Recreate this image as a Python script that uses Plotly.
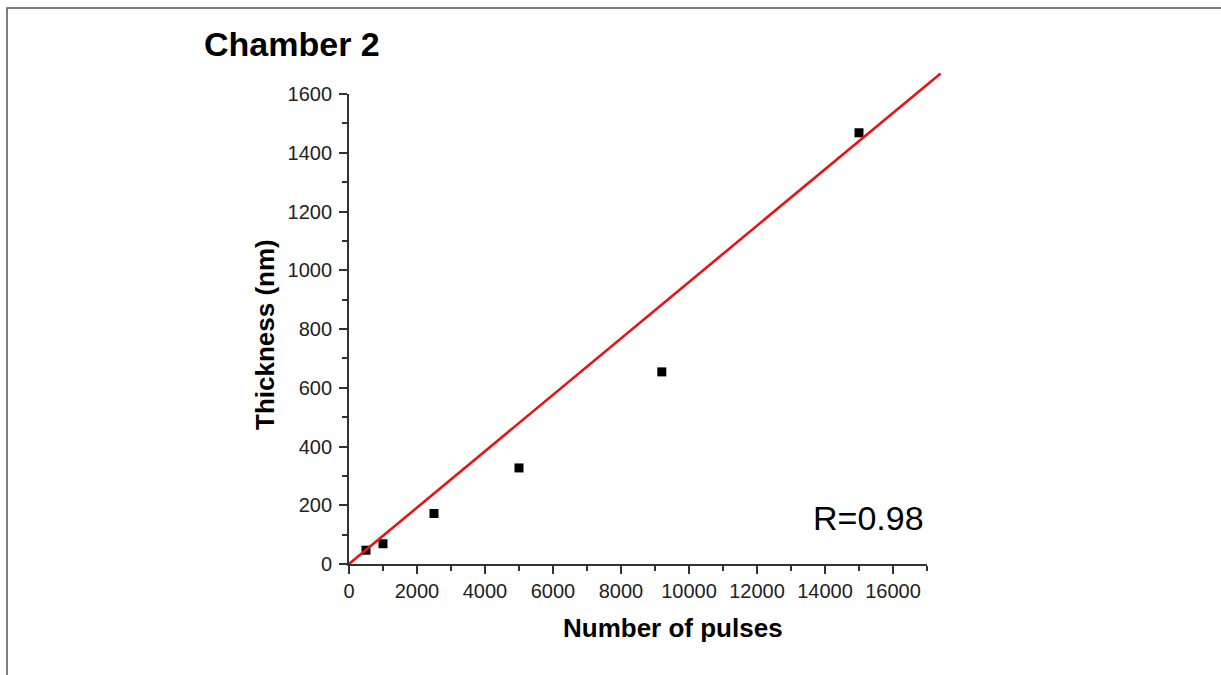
import plotly.graph_objects as go

# Data
pulses = [500, 1000, 2500, 5000, 9200, 15000]
thickness = [47, 69, 172, 327, 654, 1468]
fit_x = [0, 17400]
fit_y = [0, 1670]
x_ticks = [0, 2000, 4000, 6000, 8000, 10000, 12000, 14000, 16000]
y_ticks = [0, 200, 400, 600, 800, 1000, 1200, 1400, 1600]

X_MAX = 17000
Y_MAX = 1600

W, H = 1221, 675
ml, mr, mt, mb = 349, 261, 60, 111
pw = W - ml - mr
ph = H - mt - mb
xdom = 578 / pw
ydom = 470 / ph

FONT = "Arial, Liberation Sans, sans-serif"
AX = "#333333"

fig = go.Figure()

fig.add_trace(go.Scatter(
    x=pulses, y=thickness, mode="markers",
    marker=dict(symbol="square", size=9, color="black"),
    xaxis="x", yaxis="y", showlegend=False, cliponaxis=False,
))

fig.add_trace(go.Scatter(
    x=fit_x, y=fit_y, mode="lines",
    line=dict(color="#e31515", width=2.6),
    xaxis="x2", yaxis="y2", showlegend=False,
))

axis_common = dict(
    showgrid=False, zeroline=False, showline=True, linecolor=AX, linewidth=1.8,
    ticks="outside", ticklen=8, tickwidth=1.5, tickcolor=AX,
    tickfont=dict(family=FONT, size=20, color="#222"),
    minor=dict(ticks="outside", ticklen=5, tickwidth=1.5, tickcolor=AX),
)

fig.update_layout(
    width=W, height=H,
    margin=dict(l=ml, r=mr, t=mt, b=mb),
    paper_bgcolor="white", plot_bgcolor="rgba(0,0,0,0)",
    xaxis=dict(domain=[0, xdom], range=[0, X_MAX], anchor="y",
               tickvals=x_ticks, ticktext=[str(v) for v in x_ticks],
               minor_dtick=1000, minor_tick0=0, **axis_common),
    yaxis=dict(domain=[0, ydom], range=[0, Y_MAX], anchor="x",
               tickvals=y_ticks, ticktext=[str(v) for v in y_ticks],
               minor_dtick=100, minor_tick0=0, ticklabelstandoff=3, **axis_common),
    xaxis2=dict(domain=[0, 1], range=[0, X_MAX / xdom], anchor="y2", visible=False),
    yaxis2=dict(domain=[0, 1], range=[0, Y_MAX / ydom], anchor="x2", visible=False),
    showlegend=False,
)

# Title
fig.add_annotation(text="<b>Chamber 2</b>", xref="paper", yref="paper",
                   x=(202 - ml) / pw, y=(H - 44 - mb) / ph,
                   xanchor="left", yanchor="middle", showarrow=False,
                   font=dict(family=FONT, size=34, color="black"))

# Axis titles
fig.add_annotation(text="<b>Number of pulses</b>", xref="paper", yref="paper",
                   x=(673 - ml) / pw, y=(H - 628 - mb) / ph,
                   xanchor="center", yanchor="middle", showarrow=False,
                   font=dict(family=FONT, size=26, color="black"))
fig.add_annotation(text="<b>Thickness (nm)</b>", xref="paper", yref="paper",
                   x=(265 - ml) / pw, y=(H - 335 - mb) / ph, textangle=-90,
                   xanchor="center", yanchor="middle", showarrow=False,
                   font=dict(family=FONT, size=26, color="black"))

# R annotation
fig.add_annotation(text="R=0.98", xref="x", yref="y", x=16960, y=155,
                   xanchor="right", yanchor="middle", showarrow=False,
                   font=dict(family=FONT, size=34, color="black"))

# Outer frame
fig.add_shape(type="rect", xref="paper", yref="paper",
              x0=(7 - ml) / pw, x1=(W + 5 - ml) / pw,
              y0=(-5 - mb) / ph, y1=(H - 8 - mb) / ph,
              line=dict(color="#555555", width=1.5), fillcolor="rgba(0,0,0,0)", layer="below")

fig.write_html("out.html")
